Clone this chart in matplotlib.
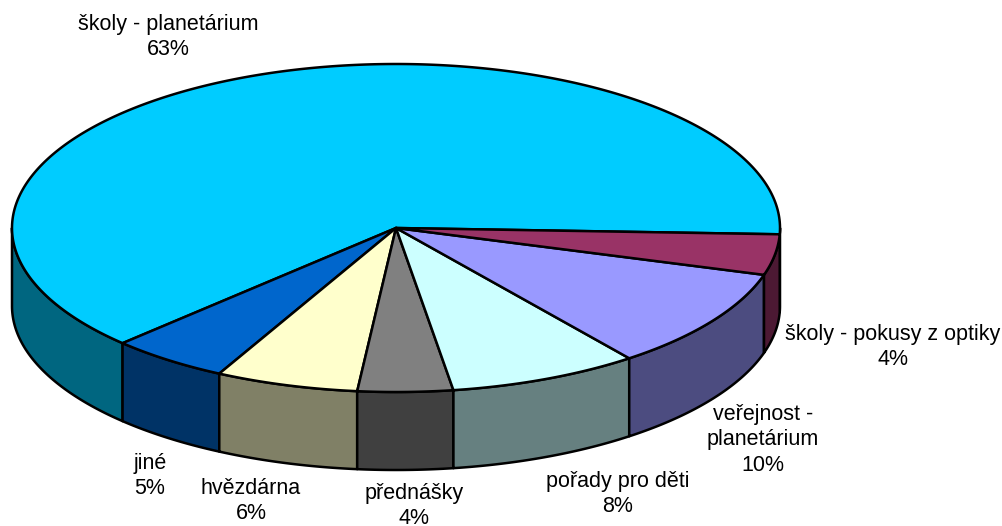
import numpy as np
import matplotlib
matplotlib.use("Agg")
import matplotlib.pyplot as plt
from matplotlib.patches import Polygon

# data (counter-clockwise order, starting at the right edge)
labels = ["školy - planetárium", "jiné", "hvězdárna", "přednášky",
          "pořady pro děti", "veřejnost -\nplanetárium", "školy - pokusy z optiky"]
values = [63, 5, 6, 4, 8, 10, 4]
top_colors = ["#00CCFF", "#0066CC", "#FFFFCC", "#808080", "#CCFFFF", "#9999FF", "#993366"]
side_colors = ["#006680", "#003366", "#808066", "#404040", "#668080", "#4C4C80", "#4C1933"]

# label positions in pixels (x centre, y centre of text block)
label_pos = [(168, 37), (150, 476), (251, 501), (414, 506),
             (618, 494), (763, 440), (893, 347)]

cx, cy = 396, 228
rx, ry = 384, 164
depth = 78
start = -2.2

plt.rcParams['font.family'] = ['Liberation Sans', 'DejaVu Sans']

fig = plt.figure(figsize=(10.03, 5.26), dpi=100)
ax = fig.add_axes([0, 0, 1, 1])
ax.set_xlim(0, 1003)
ax.set_ylim(526, 0)
ax.axis('off')


def pt(a, dy=0.0):
    r = np.radians(a)
    return cx + rx * np.cos(r), cy - ry * np.sin(r) + dy


total = float(sum(values))
bounds = [start]
for v in values:
    bounds.append(bounds[-1] + 360.0 * v / total)

# side walls (front half only)
for i in range(len(values)):
    a0, a1 = bounds[i], bounds[i + 1]
    for lo, hi in [(-180, 0), (180, 360)]:
        s0, s1 = max(a0, lo), min(a1, hi)
        if s1 <= s0:
            continue
        angs = np.linspace(s0, s1, 200)
        upper = [pt(a) for a in angs]
        lower = [pt(a, depth) for a in angs[::-1]]
        ax.add_patch(Polygon(upper + lower, closed=True, facecolor=side_colors[i],
                             edgecolor='black', lw=1.8, joinstyle='round'))

# top faces
for i in range(len(values)):
    angs = np.linspace(bounds[i], bounds[i + 1], 400)
    pts = [(cx, cy)] + [pt(a) for a in angs]
    ax.add_patch(Polygon(pts, closed=True, facecolor=top_colors[i],
                         edgecolor='black', lw=1.8, joinstyle='round'))

for lab, v, (x, y) in zip(labels, values, label_pos):
    ax.text(x, y, f"{lab}\n{v}%", ha='center', va='center', fontsize=15.5,
            linespacing=1.3, color='black')

fig.savefig("out.png", dpi=100)
